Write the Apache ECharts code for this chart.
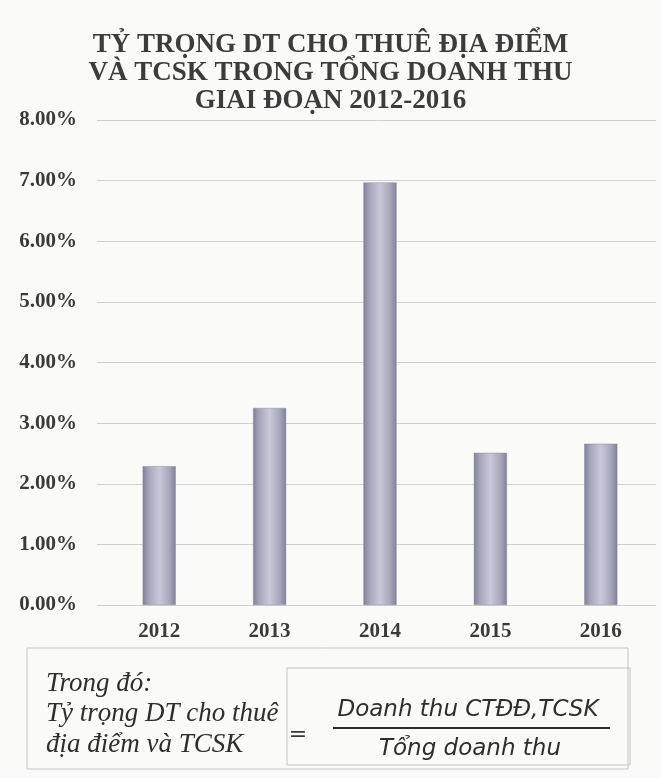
<!DOCTYPE html>
<html>
<head>
<meta charset="utf-8">
<script src="https://cdn.jsdelivr.net/npm/echarts@6/dist/echarts.min.js"></script>
<style>
html,body{margin:0;padding:0;background:#fafaf8;}
#c{width:661px;height:778px;}
</style>
</head>
<body>
<div id="c"></div>
<script>
// Data
const titleLines = ['TỶ TRỌNG DT CHO THUÊ ĐỊA ĐIỂM', 'VÀ TCSK TRONG TỔNG DOANH THU', 'GIAI ĐOẠN 2012-2016'];
const years = ['2012', '2013', '2014', '2015', '2016'];
const shares = [0.0229, 0.0325, 0.0697, 0.0251, 0.0266];
const yMin = 0, yMax = 0.08, yStep = 0.01;
const noteLines = ['Trong đó:', 'Tỷ trọng DT cho thuê', 'địa điểm và TCSK'];
const numeratorText = 'Doanh thu CTĐĐ,TCSK';
const denominatorText = 'Tổng doanh thu';

const chart = echarts.init(document.getElementById('c'), null, {renderer: 'canvas'});
const serif = '"Liberation Serif", "Times New Roman", serif';
const pct = v => (v * 100).toFixed(2) + '%';

const option = {
  backgroundColor: '#fafaf8',
  animation: false,
  title: {
    text: titleLines.join('\n'),
    left: 'center',
    top: 26,
    textStyle: {fontFamily: serif, fontWeight: 'bold', fontSize: 27, lineHeight: 28, color: '#3c3c3c'}
  },
  grid: [
    {left: 97, right: 5, top: 120, bottom: 173},
    {left: 104, right: 5, top: 120, bottom: 173}
  ],
  xAxis: [
    {gridIndex: 0, type: 'value', show: false, min: 0, max: 1},
    {gridIndex: 1, type: 'category', data: years,
     axisLine: {show: false}, axisTick: {show: false},
     axisLabel: {margin: 16, fontFamily: serif, fontWeight: 'bold', fontSize: 21, color: '#3a3a3a'}}
  ],
  yAxis: [
    {gridIndex: 0, type: 'value', min: yMin, max: yMax, interval: yStep,
     axisLine: {show: false}, axisTick: {show: false},
     axisLabel: {margin: 20, formatter: pct, fontFamily: serif, fontWeight: 'bold', fontSize: 21, color: '#3a3a3a'},
     splitLine: {lineStyle: {color: '#d0d0d0', width: 1}}},
    {gridIndex: 1, type: 'value', min: yMin, max: yMax, interval: yStep, show: false, splitLine: {show: false}}
  ],
  series: [{
    type: 'bar',
    xAxisIndex: 1, yAxisIndex: 1,
    data: shares,
    barWidth: '30%',
    itemStyle: {
      color: new echarts.graphic.LinearGradient(0, 0, 1, 0, [
        {offset: 0, color: '#80809a'},
        {offset: 0.2, color: '#a8a8bc'},
        {offset: 0.5, color: '#c8c8d8'},
        {offset: 0.8, color: '#a8a8bc'},
        {offset: 1, color: '#80809a'}
      ]),
      borderColor: '#8a8a9e', borderWidth: 0.5
    }
  }],
  graphic: [
    {type: 'rect', shape: {x: 27, y: 648, width: 601, height: 121}, style: {fill: 'none', stroke: '#c4c4c4', lineWidth: 1}},
    {type: 'rect', shape: {x: 287, y: 668, width: 343, height: 97}, style: {fill: 'none', stroke: '#c4c4c4', lineWidth: 1}},
    {type: 'text', left: 46, top: 670, style: {text: noteLines[0], font: 'italic 27px ' + serif, fill: '#2e2e2e'}},
    {type: 'text', left: 46, top: 700, style: {text: noteLines[1], font: 'italic 27px ' + serif, fill: '#2e2e2e'}},
    {type: 'text', left: 46, top: 731, style: {text: noteLines[2], font: 'italic 27px ' + serif, fill: '#2e2e2e'}},
    {type: 'text', x: 298, y: 735, style: {text: '=', font: '22px "DejaVu Sans", sans-serif', fill: '#3a3a3a', textAlign: 'center', textVerticalAlign: 'middle'}},
    {type: 'text', x: 468, y: 710, style: {text: numeratorText, font: 'italic 23px "DejaVu Sans", sans-serif', fill: '#2e2e2e', textAlign: 'center', textVerticalAlign: 'middle'}},
    {type: 'line', shape: {x1: 333, y1: 728, x2: 610, y2: 728}, style: {stroke: '#2e2e2e', lineWidth: 2}},
    {type: 'text', x: 470, y: 749, style: {text: denominatorText, font: 'italic 23px "DejaVu Sans", sans-serif', fill: '#2e2e2e', textAlign: 'center', textVerticalAlign: 'middle'}}
  ]
};
chart.setOption(option);
</script>
</body>
</html>
